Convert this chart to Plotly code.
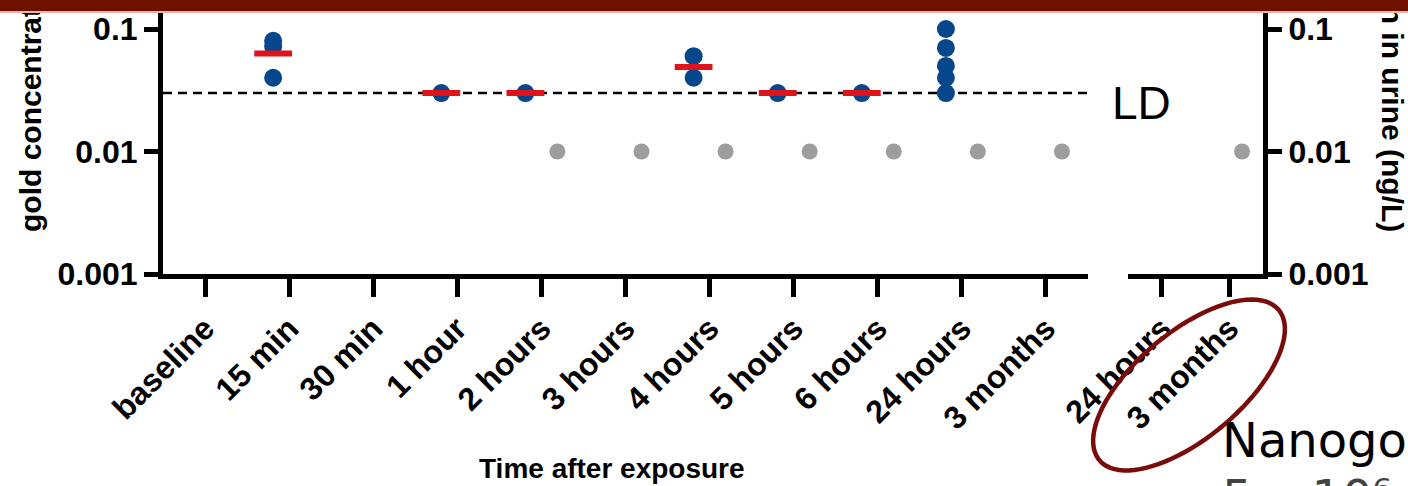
import numpy as np
import plotly.graph_objects as go

W, H = 1408, 486

# ---------------- data ----------------
categories = ["baseline", "15 min", "30 min", "1 hour", "2 hours", "3 hours",
              "4 hours", "5 hours", "6 hours", "24 hours", "3 months"]
late_categories = ["24 hours", "3 months"]

blue_times = ["15 min", "15 min", "15 min", "1 hour", "2 hours", "3 hours",
              "4 hours", "4 hours", "5 hours", "6 hours",
              "24 hours", "24 hours", "24 hours", "24 hours", "24 hours"]
blue_values = [0.08, 0.072, 0.04, 0.03, 0.03, 0.16,
               0.06, 0.04, 0.03, 0.03,
               0.1, 0.07, 0.05, 0.04, 0.03]

median_times = ["15 min", "1 hour", "2 hours", "4 hours", "5 hours", "6 hours"]
median_values = [0.063, 0.03, 0.03, 0.049, 0.03, 0.03]

grey_times = ["2 hours", "3 hours", "4 hours", "5 hours", "6 hours", "24 hours", "3 months"]
grey_values = [0.01, 0.01, 0.01, 0.01, 0.01, 0.01, 0.01]

late_grey_times = ["3 months"]
late_grey_values = [0.01]

LD = 0.03
y_tickvals = [0.001, 0.01, 0.1]
y_ticktext = ["0.001", "0.01", "0.1"]

# ---------------- styling ----------------
BLUE = "#05478a"
GREY = "#9d9d9d"
RED = "#e0131b"
MAROON = "#6e0f00"
GROUP_OFF = 0.19
BOLD = dict(family="Liberation Sans, Arial, sans-serif", color="black", weight="bold")


def px(x):
    return x / W


def py(y):
    return 1 - y / H


def pos(times, cats, off):
    return [cats.index(t) + off for t in times]


y_bottom_px = 274
dec_px = 122.5
y_top_log = -3 + y_bottom_px / dec_px

fig = go.Figure()

# LD dashed line
fig.add_trace(go.Scatter(x=[-0.5, len(categories) - 0.5], y=[LD, LD], mode="lines",
                         line=dict(color="black", width=2.5, dash="9px,6px"),
                         xaxis="x", yaxis="y", showlegend=False, hoverinfo="skip"))
# grey points
fig.add_trace(go.Scatter(x=pos(grey_times, categories, GROUP_OFF), y=grey_values, mode="markers",
                         marker=dict(color=GREY, size=16), xaxis="x", yaxis="y", showlegend=False))
# blue points
fig.add_trace(go.Scatter(x=pos(blue_times, categories, -GROUP_OFF), y=blue_values, mode="markers",
                         marker=dict(color=BLUE, size=18), xaxis="x", yaxis="y", showlegend=False))
# medians
fig.add_trace(go.Scatter(x=pos(median_times, categories, -GROUP_OFF), y=median_values, mode="markers",
                         marker=dict(symbol="line-ew", size=27, line=dict(color=RED, width=6)),
                         xaxis="x", yaxis="y", showlegend=False))
# late panel grey
fig.add_trace(go.Scatter(x=pos(late_grey_times, late_categories, GROUP_OFF), y=late_grey_values,
                         mode="markers", marker=dict(color=GREY, size=16),
                         xaxis="x2", yaxis="y2", showlegend=False))

axis_common = dict(showline=True, linecolor="black", linewidth=5, ticks="outside",
                   tickcolor="black", tickwidth=5, showgrid=False, zeroline=False,
                   automargin=False)

fig.update_layout(
    template="none",
    width=W, height=H,
    margin=dict(l=0, r=0, t=0, b=0, pad=0, autoexpand=False),
    paper_bgcolor="white", plot_bgcolor="white",
    xaxis=dict(domain=[px(163), px(1088)], range=[-0.5, len(categories) - 0.5],
               tickvals=list(range(len(categories))), ticktext=categories,
               tickangle=-45, ticklen=18, tickfont=dict(size=32, **BOLD),
               anchor="y", **axis_common),
    xaxis2=dict(domain=[px(1128), px(1263)], range=[-0.5, len(late_categories) - 0.5],
                tickvals=list(range(len(late_categories))), ticktext=late_categories,
                tickangle=-45, ticklen=18, tickfont=dict(size=32, **BOLD),
                anchor="y2", **axis_common),
    yaxis=dict(domain=[py(y_bottom_px), 1], type="log", range=[-3, y_top_log],
               tickvals=y_tickvals, ticktext=y_ticktext, ticklen=14,
               tickfont=dict(size=32, **BOLD), anchor="x", **axis_common),
    yaxis2=dict(domain=[py(y_bottom_px), 1], type="log", range=[-3, y_top_log],
                tickvals=y_tickvals, ticktext=y_ticktext, ticklen=14, side="right",
                overlaying="y", tickfont=dict(size=32, **BOLD), anchor="x2", **axis_common),
)

# red ellipse (slide annotation)
cx, cy, a, b, th = 1189, 385, 117, 53, np.deg2rad(40)
t = np.linspace(0, 2 * np.pi, 90)
ex = cx + a * np.cos(t) * np.cos(th) + b * np.sin(t) * np.sin(th)
ey = cy - a * np.cos(t) * np.sin(th) + b * np.sin(t) * np.cos(th)
path = "M " + " L ".join(f"{px(X):.5f},{py(Y):.5f}" for X, Y in zip(ex, ey)) + " Z"
fig.add_shape(type="path", path=path, xref="paper", yref="paper",
              line=dict(color="#7a0b0b", width=4.5), layer="above")

title_text = "gold concentration in urine (ng/L)"
annotations = [
    dict(text="LD", x=px(1141), y=py(103), xref="paper", yref="paper", showarrow=False,
         xanchor="center", yanchor="middle",
         font=dict(family="Liberation Sans, Arial, sans-serif", size=46, color="black")),
    dict(text="Time after exposure", x=px(612), y=py(468), xref="paper", yref="paper",
         showarrow=False, xanchor="center", yanchor="middle", font=dict(size=28, **BOLD)),
    dict(text="Nanogold", x=px(1220), y=py(440), xref="paper", yref="paper", showarrow=False,
         xanchor="left", yanchor="middle",
         font=dict(family="DejaVu Sans, sans-serif", size=48, color="black")),
    dict(text="5 x 10⁶ n", x=px(1220), y=py(497), xref="paper", yref="paper", showarrow=False,
         xanchor="left", yanchor="middle",
         font=dict(family="DejaVu Sans, sans-serif", size=48, color="#444444")),
    dict(text=title_text, x=px(31), y=py(234), xref="paper", yref="paper", showarrow=False,
         textangle=-90, xanchor="center", yanchor="bottom", font=dict(size=30, **BOLD)),
    dict(text=title_text, x=px(1392), y=py(234), xref="paper", yref="paper", showarrow=False,
         textangle=90, xanchor="center", yanchor="bottom", font=dict(size=30, **BOLD)),
    # slide header band (drawn last so it covers the chart top)
    dict(text=" ", x=0, y=1, xref="paper", yref="paper", showarrow=False, xanchor="left",
         yanchor="top", width=W, height=13, bgcolor="#efb6a6", borderpad=0, borderwidth=0,
         font=dict(size=1)),
    dict(text=" ", x=0, y=1, xref="paper", yref="paper", showarrow=False, xanchor="left",
         yanchor="top", width=W, height=11, bgcolor=MAROON, borderpad=0, borderwidth=0,
         font=dict(size=1)),
]
fig.update_layout(annotations=annotations)

fig.write_html("out.html", config={"displayModeBar": False},
               post_script="document.body.style.margin='0';document.body.style.overflow='hidden';")
